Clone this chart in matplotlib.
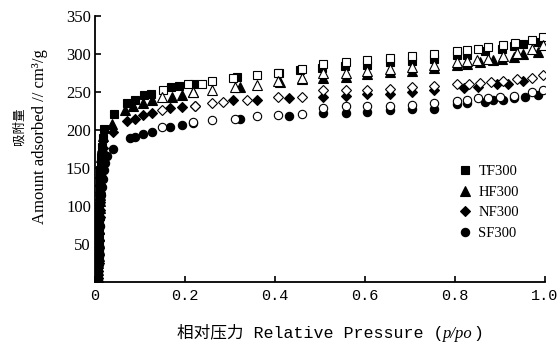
import matplotlib
matplotlib.use("Agg")
import matplotlib.pyplot as plt
from matplotlib.offsetbox import TextArea, HPacker, AnchoredOffsetbox

# ---- data (p/po, cm3/g) ----
# low pressure column (micropore filling, points pile up near p/po = 0)
tf_low_x = [0.007, 0.007, 0.007, 0.007, 0.008, 0.008, 0.008, 0.008, 0.008, 0.009, 0.009, 0.009, 0.009, 0.010, 0.010, 0.010, 0.011, 0.011, 0.012, 0.013, 0.014, 0.016, 0.018, 0.020]
tf_low_y = [3, 11, 19, 27, 35, 43, 51, 59, 67, 75, 83, 91, 99, 107, 115, 123, 131, 139, 147, 155, 165, 178, 190, 201]
hf_low_x = [0.007, 0.007, 0.007, 0.008, 0.008, 0.008, 0.008, 0.009, 0.009, 0.009, 0.010, 0.010, 0.010, 0.011, 0.011, 0.012, 0.013, 0.014, 0.016, 0.018]
hf_low_y = [7, 16, 25, 34, 43, 52, 61, 70, 79, 88, 97, 106, 115, 124, 133, 143, 153, 165, 177, 192]
nf_low_x = [0.007, 0.007, 0.008, 0.008, 0.008, 0.009, 0.009, 0.009, 0.010, 0.010, 0.011, 0.011, 0.012, 0.013, 0.014, 0.016, 0.018]
nf_low_y = [5, 15, 25, 35, 45, 55, 65, 75, 85, 95, 105, 115, 127, 139, 151, 163, 176]
sf_low_x = [0.007, 0.007, 0.008, 0.008, 0.008, 0.009, 0.009, 0.010, 0.010, 0.011, 0.012, 0.013, 0.015, 0.017, 0.020, 0.023, 0.026]
sf_low_y = [4, 14, 24, 34, 44, 54, 64, 74, 84, 94, 104, 114, 125, 136, 147, 157, 166]

# adsorption branch (filled markers)
tf_ads_x = [0.042, 0.071, 0.089, 0.109, 0.125, 0.168, 0.187, 0.220, 0.315, 0.409, 0.456, 0.504, 0.556, 0.604, 0.656, 0.704, 0.754, 0.804, 0.827, 0.867, 0.904, 0.930, 0.952, 0.985]
tf_ads_y = [221, 235, 239, 246, 248, 256, 258, 261, 270, 275, 279, 282, 284, 286, 289, 291, 293, 299, 299, 304, 307, 310, 313, 316]
hf_ads_x = [0.037, 0.067, 0.085, 0.107, 0.126, 0.170, 0.193, 0.218, 0.322, 0.411, 0.459, 0.507, 0.557, 0.605, 0.656, 0.704, 0.754, 0.804, 0.827, 0.856, 0.885, 0.904, 0.930, 0.952, 0.985]
hf_ads_y = [208, 226, 231, 235, 239, 244, 246, 250, 256, 263, 267, 268, 270, 274, 276, 278, 281, 285, 287, 290, 292, 293, 296, 300, 303]
nf_ads_x = [0.041, 0.070, 0.089, 0.107, 0.126, 0.167, 0.193, 0.222, 0.307, 0.359, 0.430, 0.507, 0.557, 0.605, 0.656, 0.704, 0.754, 0.819, 0.852, 0.893, 0.918, 0.952]
nf_ads_y = [198, 212, 215, 220, 223, 229, 230, 232, 239, 239, 242, 244, 245, 247, 248, 250, 253, 255, 256, 261, 261, 265]
sf_ads_x = [0.041, 0.078, 0.089, 0.107, 0.126, 0.167, 0.193, 0.218, 0.322, 0.430, 0.507, 0.557, 0.605, 0.656, 0.704, 0.754, 0.804, 0.827, 0.867, 0.885, 0.907, 0.930, 0.956, 0.985]
sf_ads_y = [175, 189, 191, 195, 197, 204, 207, 209, 215, 218, 222, 223, 224, 226, 227, 227, 234, 235, 237, 239, 240, 242, 244, 246]

# desorption branch (open markers)
tf_des_x = [0.996, 0.970, 0.933, 0.907, 0.874, 0.852, 0.827, 0.804, 0.754, 0.704, 0.656, 0.605, 0.557, 0.507, 0.459, 0.406, 0.359, 0.307, 0.259, 0.238, 0.207, 0.150]
tf_des_y = [323, 319, 315, 312, 309, 307, 305, 304, 300, 298, 295, 292, 289, 287, 280, 275, 272, 269, 264, 261, 260, 253]
hf_des_x = [0.996, 0.970, 0.937, 0.907, 0.874, 0.848, 0.827, 0.804, 0.754, 0.704, 0.656, 0.605, 0.557, 0.507, 0.459, 0.406, 0.359, 0.311, 0.259, 0.218, 0.148]
hf_des_y = [312, 307, 301, 297, 294, 292, 291, 290, 285, 283, 280, 277, 275, 275, 269, 264, 259, 257, 253, 250, 243]
nf_des_x = [0.996, 0.970, 0.937, 0.907, 0.880, 0.856, 0.830, 0.804, 0.754, 0.704, 0.656, 0.605, 0.557, 0.507, 0.459, 0.406, 0.337, 0.285, 0.259, 0.222, 0.148]
nf_des_y = [272, 269, 267, 265, 263, 262, 261, 260, 258, 256, 254, 253, 252, 252, 244, 243, 239, 237, 235, 232, 226]
sf_des_x = [0.996, 0.970, 0.930, 0.900, 0.874, 0.852, 0.827, 0.804, 0.754, 0.704, 0.656, 0.605, 0.557, 0.507, 0.459, 0.407, 0.359, 0.311, 0.259, 0.218, 0.148]
sf_des_y = [253, 250, 245, 243, 242, 242, 240, 238, 235, 233, 232, 231, 231, 229, 221, 220, 218, 215, 213, 210, 204]

labels = ["TF300", "HF300", "NF300", "SF300"]
markers = ["s", "^", "D", "o"]
sizes = [5.5, 6.5, 5.0, 6.0]

x_ticks = [0, 0.2, 0.4, 0.6, 0.8, 1.0]
x_ticklabels = ["0", "0.2", "0.4", "0.6", "0.8", "1.0"]
y_ticks = [50, 100, 150, 200, 250, 300, 350]

series = [
    (tf_low_x + tf_ads_x, tf_low_y + tf_ads_y, tf_des_x, tf_des_y),
    (hf_low_x + hf_ads_x, hf_low_y + hf_ads_y, hf_des_x, hf_des_y),
    (nf_low_x + nf_ads_x, nf_low_y + nf_ads_y, nf_des_x, nf_des_y),
    (sf_low_x + sf_ads_x, sf_low_y + sf_ads_y, sf_des_x, sf_des_y),
]

fig = plt.figure(figsize=(5.59, 3.45), dpi=100)
ax = fig.add_axes([0.170, 0.1826, 0.805, 0.771])

handles = []
for (ax_x, ax_y, dx, dy), lab, m, ms in zip(series, labels, markers, sizes):
    h, = ax.plot(ax_x, ax_y, linestyle="none", marker=m, markersize=ms,
                 markerfacecolor="black", markeredgecolor="black",
                 markeredgewidth=0.8, label=lab)
    handles.append(h)
for (ax_x, ax_y, dx, dy), m, ms in zip(series, markers, sizes):
    ax.plot(dx, dy, linestyle="none", marker=m, markersize=ms,
            markerfacecolor="white", markeredgecolor="black",
            markeredgewidth=0.8)

ax.set_xlim(0, 1.0)
ax.set_ylim(0, 350)
for s in ["top", "right"]:
    ax.spines[s].set_visible(False)
for s in ["left", "bottom"]:
    ax.spines[s].set_linewidth(1.3)

ax.set_xticks(x_ticks)
ax.set_xticklabels(x_ticklabels, family="Liberation Mono", fontsize=11)
ax.set_yticks(y_ticks)
ax.set_yticklabels([str(v) for v in y_ticks], family="Liberation Serif", fontsize=12)
ax.tick_params(direction="in", length=4, width=1.2, pad=3)
ax.tick_params(axis="x", pad=5)

leg = ax.legend(handles=handles, loc="upper left", bbox_to_anchor=(0.81, 0.44),
                frameon=False, handlelength=0.8, handletextpad=0.5,
                labelspacing=0.5, borderpad=0, borderaxespad=0,
                prop={"family": "Liberation Serif", "size": 10.5})

# axis titles
fig.text(0.034, 0.635, "吸附量", rotation=90, ha="center", va="center",
         family=["Noto Sans CJK SC", "DejaVu Sans"], fontsize=9)
fig.text(0.072, 0.603, "Amount adsorbed // cm³/g", rotation=90, ha="center",
         va="center", family="Liberation Serif", fontsize=12)

fam = ["Liberation Mono", "Noto Sans CJK SC"]
parts = [
    TextArea("相对压力 Relative Pressure (", textprops=dict(family=fam, size=12)),
    TextArea("p/po", textprops=dict(family="Liberation Serif", style="italic", size=12)),
    TextArea(")", textprops=dict(family=fam, size=12)),
]
box = HPacker(children=parts, align="baseline", pad=0, sep=0)
anchored = AnchoredOffsetbox(loc="center", child=box, pad=0, borderpad=0,
                             frameon=False, bbox_to_anchor=(0.59, 0.035),
                             bbox_transform=fig.transFigure)
fig.add_artist(anchored)

fig.savefig("out.png", dpi=100)
